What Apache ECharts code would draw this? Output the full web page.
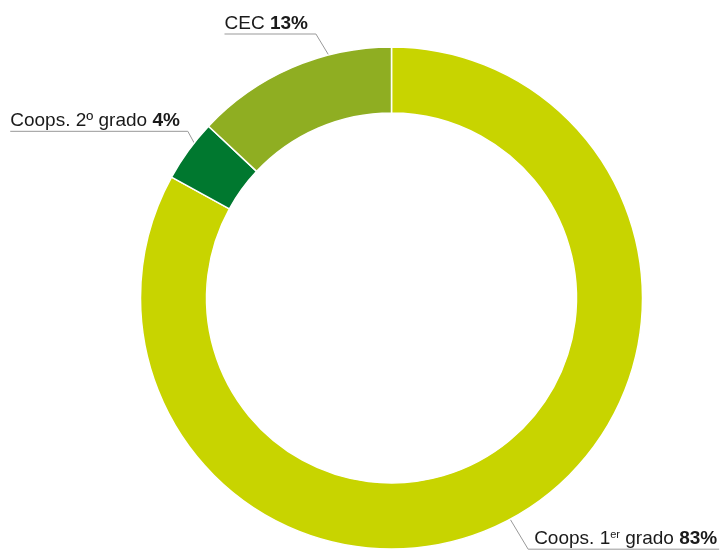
<!DOCTYPE html>
<html>
<head>
<meta charset="utf-8">
<script src="https://cdn.jsdelivr.net/npm/echarts@6/dist/echarts.min.js"></script>
<style>
  html, body { margin: 0; padding: 0; background: #fff; }
  #chart { width: 721px; height: 550px; }
</style>
</head>
<body>
<div id="chart"></div>
<script>
const names = ['Coops. 1er grado', 'Coops. 2º grado', 'CEC'];
const values = [83, 4, 13];
const colors = ['#c8d400', '#00782f', '#8fae22'];

// label placement: where the leader leaves the ring (fraction through slice) and the elbow offset
const anchorFrac = [0.508, 0.65, 0.69];
const elbow = [[18, 30], [-6.3, -11.6], [-12.7, -21]];

const cx = 391.5, cy = 298, r0 = 185, r1 = 251;
const total = values.reduce((a, b) => a + b, 0);

function labelText(i) {
  const name = names[i];
  if (name.indexOf('1er') >= 0) {
    return '{n|Coops. 1}{s|er}{n| grado }{b|' + values[i] + '%}';
  }
  return '{n|' + name + ' }{b|' + values[i] + '%}';
}

const chart = echarts.init(document.getElementById('chart'), null, { renderer: 'canvas' });
chart.setOption({
  animation: false,
  series: [{
    type: 'pie',
    center: [cx, cy],
    radius: [r0, r1],
    startAngle: 90,
    clockwise: true,
    avoidLabelOverlap: false,
    itemStyle: { borderColor: '#fff', borderWidth: 1.5 },
    label: {
      show: true,
      position: 'outside',
      formatter: p => labelText(p.dataIndex),
      rich: {
        n: { fontFamily: 'Liberation Sans', fontSize: 19, color: '#1a1a1a' },
        b: { fontFamily: 'Liberation Sans', fontSize: 19, fontWeight: 'bold', color: '#1a1a1a' },
        s: { fontFamily: 'Liberation Sans', fontSize: 11, color: '#1a1a1a', verticalAlign: 'top' }
      }
    },
    labelLine: { show: true, smooth: false, lineStyle: { color: '#999', width: 1 } },
    labelLayout: function (params) {
      const i = params.dataIndex;
      let cum = 0;
      for (let k = 0; k < i; k++) cum += values[k];
      const a = 2 * Math.PI * (cum + anchorFrac[i] * values[i]) / total;
      const p0 = [cx + r1 * Math.sin(a), cy - r1 * Math.cos(a)];
      const p1 = [p0[0] + elbow[i][0], p0[1] + elbow[i][1]];
      const w = params.labelRect.width;
      const goRight = elbow[i][0] > 0;
      const p2 = goRight ? [p1[0] + w + 8, p1[1]] : [p1[0] - w - 8, p1[1]];
      return {
        x: goRight ? p1[0] + 6 : p2[0],
        y: p1[1] - 1,
        align: 'left',
        verticalAlign: 'bottom',
        labelLinePoints: [p0, p1, p2]
      };
    },
    data: names.map((n, i) => ({ name: n, value: values[i], itemStyle: { color: colors[i] } }))
  }]
});
</script>
</body>
</html>
